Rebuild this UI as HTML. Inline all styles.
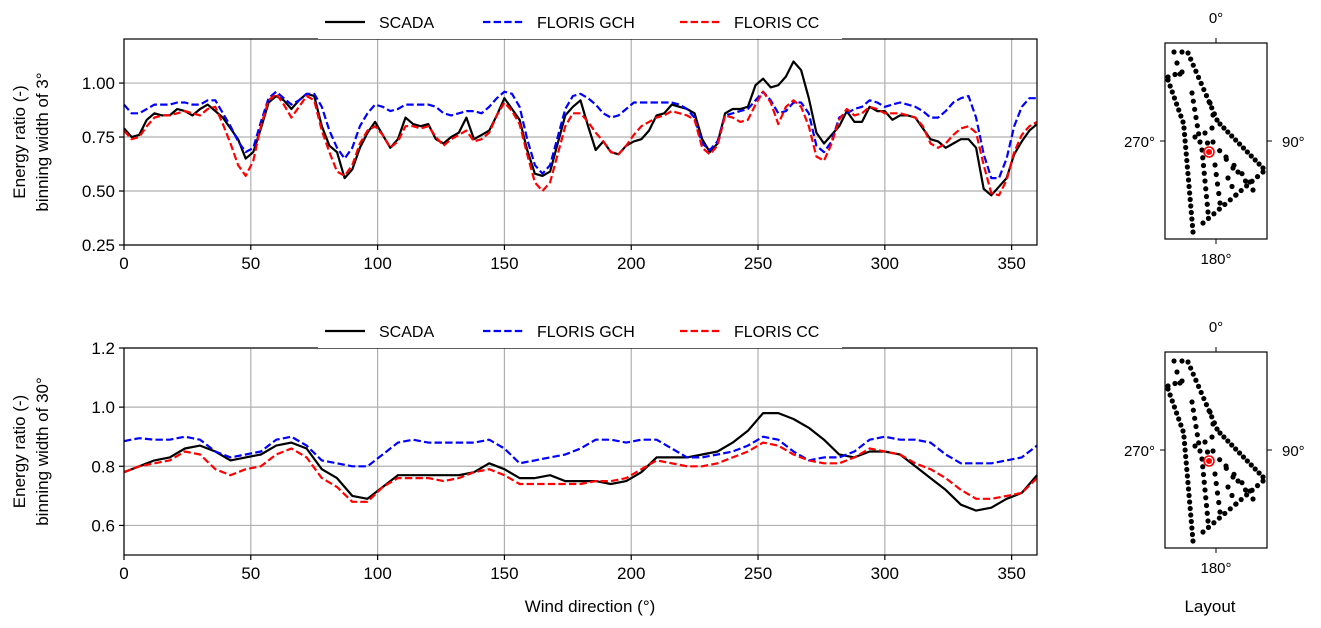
<!DOCTYPE html>
<html><head><meta charset="utf-8">
<style>
body{margin:0;background:#fff;}
svg{display:block;font-family:"Liberation Sans","DejaVu Sans",sans-serif;}
</style></head>
<body>
<svg id="fig" width="1321" height="628" viewBox="0 0 1321 628" xmlns="http://www.w3.org/2000/svg"></svg>
<script>
const dirs3 = [];
for (let d = 0; d <= 360; d += 3) dirs3.push(d);
const scada3 = [0.79,0.75,0.76,0.83,0.86,0.85,0.85,0.88,0.87,0.85,0.88,0.90,0.87,0.84,0.79,0.74,0.65,0.68,0.79,0.91,0.94,0.92,0.88,0.92,0.95,0.94,0.80,0.71,0.68,0.56,0.60,0.70,0.77,0.82,0.76,0.70,0.74,0.84,0.81,0.80,0.81,0.74,0.72,0.75,0.77,0.84,0.74,0.76,0.78,0.85,0.93,0.88,0.83,0.69,0.58,0.57,0.59,0.72,0.85,0.89,0.92,0.80,0.69,0.73,0.68,0.67,0.71,0.73,0.74,0.78,0.85,0.86,0.90,0.89,0.88,0.86,0.74,0.68,0.72,0.86,0.88,0.88,0.89,0.99,1.02,0.98,0.99,1.03,1.10,1.06,0.93,0.77,0.72,0.76,0.80,0.87,0.82,0.82,0.89,0.87,0.87,0.83,0.85,0.85,0.84,0.79,0.74,0.73,0.70,0.72,0.74,0.74,0.70,0.51,0.48,0.52,0.56,0.67,0.73,0.78,0.81];
const gch3 = [0.90,0.86,0.86,0.88,0.90,0.90,0.90,0.91,0.91,0.90,0.90,0.92,0.92,0.86,0.80,0.73,0.68,0.70,0.82,0.93,0.96,0.93,0.90,0.92,0.95,0.95,0.89,0.78,0.70,0.65,0.70,0.80,0.86,0.90,0.89,0.87,0.88,0.90,0.90,0.90,0.90,0.89,0.86,0.85,0.86,0.87,0.87,0.86,0.89,0.93,0.96,0.95,0.89,0.74,0.62,0.58,0.62,0.75,0.88,0.94,0.95,0.93,0.90,0.86,0.84,0.85,0.88,0.91,0.91,0.91,0.91,0.91,0.91,0.90,0.88,0.84,0.72,0.69,0.73,0.85,0.86,0.87,0.88,0.92,0.96,0.92,0.86,0.87,0.91,0.91,0.86,0.71,0.68,0.73,0.84,0.86,0.88,0.89,0.92,0.91,0.89,0.90,0.91,0.90,0.89,0.87,0.84,0.84,0.87,0.91,0.93,0.94,0.84,0.67,0.56,0.56,0.65,0.80,0.89,0.93,0.93];
const cc3 = [0.78,0.74,0.75,0.80,0.84,0.85,0.85,0.86,0.87,0.86,0.85,0.88,0.89,0.81,0.72,0.62,0.57,0.64,0.80,0.92,0.95,0.90,0.84,0.89,0.94,0.92,0.78,0.68,0.59,0.57,0.62,0.72,0.78,0.80,0.76,0.70,0.73,0.80,0.80,0.79,0.80,0.75,0.71,0.74,0.76,0.78,0.73,0.74,0.77,0.85,0.91,0.87,0.81,0.67,0.54,0.50,0.54,0.67,0.80,0.86,0.86,0.82,0.77,0.73,0.68,0.67,0.71,0.76,0.80,0.82,0.84,0.85,0.87,0.86,0.85,0.83,0.70,0.67,0.71,0.85,0.84,0.82,0.83,0.90,0.96,0.91,0.81,0.89,0.92,0.89,0.80,0.66,0.64,0.72,0.83,0.88,0.85,0.86,0.89,0.88,0.86,0.86,0.86,0.85,0.84,0.80,0.72,0.70,0.72,0.76,0.79,0.80,0.77,0.62,0.49,0.48,0.55,0.68,0.76,0.80,0.82];

const dirs30 = [];
for (let d = 0; d <= 360; d += 6) dirs30.push(d);
const scada30 = [0.78,0.80,0.82,0.83,0.86,0.87,0.85,0.82,0.83,0.84,0.87,0.88,0.86,0.79,0.76,0.70,0.69,0.73,0.77,0.77,0.77,0.77,0.77,0.78,0.81,0.79,0.76,0.76,0.77,0.75,0.75,0.75,0.74,0.75,0.78,0.83,0.83,0.83,0.84,0.85,0.88,0.92,0.98,0.98,0.96,0.93,0.89,0.84,0.83,0.85,0.85,0.84,0.80,0.76,0.72,0.67,0.65,0.66,0.69,0.71,0.77];
const gch30 = [0.885,0.895,0.89,0.89,0.90,0.89,0.85,0.83,0.84,0.85,0.89,0.90,0.87,0.82,0.81,0.80,0.80,0.84,0.88,0.89,0.88,0.88,0.88,0.88,0.89,0.86,0.81,0.82,0.83,0.84,0.86,0.89,0.89,0.88,0.89,0.89,0.86,0.83,0.83,0.84,0.85,0.87,0.90,0.89,0.85,0.82,0.83,0.83,0.85,0.89,0.90,0.89,0.89,0.88,0.84,0.81,0.81,0.81,0.82,0.83,0.87];
const cc30 = [0.78,0.80,0.81,0.82,0.85,0.84,0.79,0.77,0.79,0.80,0.84,0.86,0.83,0.76,0.73,0.68,0.68,0.73,0.76,0.76,0.76,0.75,0.76,0.78,0.79,0.77,0.74,0.74,0.74,0.74,0.74,0.75,0.75,0.76,0.79,0.82,0.81,0.80,0.80,0.81,0.83,0.85,0.88,0.87,0.84,0.82,0.81,0.81,0.83,0.86,0.85,0.84,0.81,0.79,0.76,0.72,0.69,0.69,0.70,0.71,0.76];

const xTicks = [0,50,100,150,200,250,300,350];
const yTicksTop = [0.25,0.50,0.75,1.00];
const yTicksBot = [0.6,0.8,1.0,1.2];
const legendLabels = ["SCADA","FLORIS GCH","FLORIS CC"];

const NS = "http://www.w3.org/2000/svg";
const svg = document.getElementById("fig");
function mk(tag, attrs, parent) {
  const e = document.createElementNS(NS, tag);
  for (const k in attrs) e.setAttribute(k, attrs[k]);
  (parent || svg).appendChild(e);
  return e;
}
const X0 = 124, X1 = 1037;
const xs = d => X0 + (d / 360) * (X1 - X0);

const styles = [
  {stroke:"#000", dash:""},
  {stroke:"#0000ff", dash:"7.4,3.2"},
  {stroke:"#ff0000", dash:"7.4,3.2"}
];

function panel(name, top, bot, ymin, ymax, yTicks, fmt, dirs, series, label2, legY) {
  const g = mk("g", {});
  
  
  const ys = v => bot - (v - ymin) / (ymax - ymin) * (bot - top);
  // grid
  xTicks.forEach(t => {
    const l = mk("line", {x1:xs(t), x2:xs(t), y1:top, y2:bot, stroke:"#b0b0b0", "stroke-width":1.2}, g);
    
    
  });
  yTicks.forEach(t => {
    const l = mk("line", {x1:X0, x2:X1, y1:ys(t), y2:ys(t), stroke:"#b0b0b0", "stroke-width":1.2}, g);
    
    
  });
  // series
  const names = ["scada-line","floris-gch-line","floris-cc-line"];
  series.forEach((vals, i) => {
    const pts = vals.map((v, j) => xs(dirs[j]).toFixed(1) + "," + ys(v).toFixed(1)).join(" ");
    const p = mk("polyline", {points:pts, fill:"none", stroke:styles[i].stroke, "stroke-width":2.2, "stroke-dasharray":styles[i].dash, "stroke-linejoin":"round"}, g);
    
    
  });
  // axes frame
  const fr = mk("rect", {x:X0, y:top, width:X1-X0, height:bot-top, fill:"none", stroke:"#000", "stroke-width":1.2}, g);
  
  
  xTicks.forEach(t => {
    mk("line", {x1:xs(t), x2:xs(t), y1:bot, y2:bot+5, stroke:"#000", "stroke-width":1.2}, g);
    const tx = mk("text", {x:xs(t), y:bot+24, "text-anchor":"middle", "font-size":17}, g);
    tx.textContent = t;
    
    
  });
  yTicks.forEach(t => {
    mk("line", {x1:X0-5, x2:X0, y1:ys(t), y2:ys(t), stroke:"#000", "stroke-width":1.2}, g);
    const tx = mk("text", {x:X0-9, y:ys(t)+6, "text-anchor":"end", "font-size":17}, g);
    tx.textContent = fmt(t);
    
    
  });
  // y label
  const yl = mk("text", {transform:`translate(25,${(top+bot)/2}) rotate(-90)`, "text-anchor":"middle", "font-size":17}, g);
  yl.textContent = "Energy ratio (-)";
  
  
  const yl2 = mk("text", {transform:`translate(48,${(top+bot)/2}) rotate(-90)`, "text-anchor":"middle", "font-size":17}, g);
  yl2.textContent = label2;
  
  
  // legend
  const lg = mk("g", {}, g);
  
  
  mk("rect", {x:318, y:legY-2, width:524, height:top-legY+2, fill:"#fff", stroke:"none"}, lg);
  const lx = [325, 483, 680];
  legendLabels.forEach((lab, i) => {
    const ly = legY + 12;
    const l = mk("line", {x1:lx[i], x2:lx[i]+40, y1:ly, y2:ly, stroke:styles[i].stroke, "stroke-width":2.2, "stroke-dasharray":styles[i].dash}, lg);
    
    
    const t = mk("text", {x:lx[i]+54, y:ly+6, "font-size":16}, lg);
    t.textContent = lab;
    
    
  });
}
panel("top-chart", 39, 245, 0.25, 1.204, yTicksTop, t => t.toFixed(2), dirs3, [scada3, gch3, cc3], "binning width of 3°", 10);
panel("bottom-chart", 348, 555, 0.5, 1.2, yTicksBot, t => t.toFixed(1), dirs30, [scada30, gch30, cc30], "binning width of 30°", 319);

const xt = mk("text", {x:590, y:612, "text-anchor":"middle", "font-size":17});
xt.textContent = "Wind direction (°)";


const lt = mk("text", {x:1210, y:612, "text-anchor":"middle", "font-size":17});
lt.textContent = "Layout";



// layout panels
function dotLine(g, x1, y1, x2, y2, n) {
  for (let i = 0; i < n; i++) {
    const t = n === 1 ? 0 : i / (n - 1);
    mk("circle", {cx:x1+(x2-x1)*t, cy:y1+(y2-y1)*t, r:2.6, fill:"#000"}, g);
  }
}
function layout(name, dy) {
  const g = mk("g", {transform:`translate(0,${dy})`});
  
  
  mk("rect", {x:1165, y:43, width:102, height:196, fill:"none", stroke:"#000", "stroke-width":1.2}, g);
  mk("line", {x1:1216, x2:1216, y1:38, y2:43, stroke:"#000"}, g);
  mk("line", {x1:1216, x2:1216, y1:239, y2:244, stroke:"#000"}, g);
  mk("line", {x1:1160, x2:1165, y1:141, y2:141, stroke:"#000"}, g);
  mk("line", {x1:1267, x2:1272, y1:141, y2:141, stroke:"#000"}, g);
  const labs = [["0°",1216,23,"middle"],["180°",1216,264,"middle"],["270°",1155,147,"end"],["90°",1282,147,"start"]];
  labs.forEach(l => {
    const t = mk("text", {x:l[1], y:l[2], "text-anchor":l[3], "font-size":15}, g);
    t.textContent = l[0];
    
    
  });
  const dg = mk("g", {}, g);
  
  
  dotLine(dg, 1174, 52, 1180, 74, 3);
  dotLine(dg, 1182, 52, 1182, 52, 1);
  dotLine(dg, 1168, 77, 1182, 72, 3);
  dotLine(dg, 1168, 80, 1183, 122, 8);
  dotLine(dg, 1184, 128, 1193, 232, 17);
  dotLine(dg, 1188, 53, 1217, 120, 12);
  dotLine(dg, 1220, 124, 1263, 168, 12);
  dotLine(dg, 1192, 93, 1200, 142, 7);
  dotLine(dg, 1202, 150, 1208, 212, 9);
  dotLine(dg, 1203, 223, 1263, 172, 12);
  dotLine(dg, 1210, 103, 1213, 115, 2);
  dotLine(dg, 1195, 137, 1212, 128, 2);
  dotLine(dg, 1205, 133, 1210, 153, 3);
  dotLine(dg, 1213, 142, 1233, 168, 4);
  dotLine(dg, 1215, 165, 1220, 203, 5);
  dotLine(dg, 1226, 157, 1250, 182, 4);
  dotLine(dg, 1228, 178, 1236, 195, 3);
  dotLine(dg, 1238, 172, 1253, 190, 3);
  mk("circle", {cx:1209, cy:152, r:5, fill:"#fff", stroke:"#ff0000", "stroke-width":1.6}, g);
  const rd = mk("circle", {cx:1209, cy:152, r:3, fill:"#ff0000"}, g);
  
  
}
layout("layout-top", 0);
layout("layout-bottom", 309);
</script>
</body></html>
